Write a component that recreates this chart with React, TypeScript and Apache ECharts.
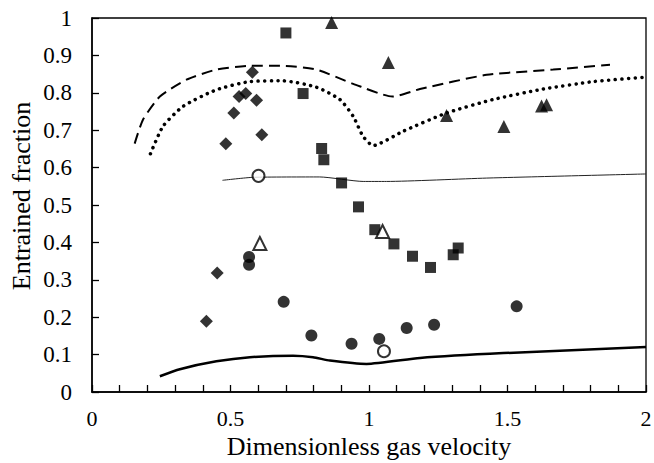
import React, { useEffect, useRef } from "react";
import * as echarts from "echarts";

const xTickLabels = ["0", "0.5", "1", "1.5", "2"];

const diamonds = [
  [0.413, 0.189], [0.452, 0.318], [0.483, 0.664], [0.512, 0.746], [0.531, 0.79],
  [0.555, 0.798], [0.579, 0.855], [0.594, 0.78], [0.613, 0.688],
];
const squares = [
  [0.7, 0.96], [0.762, 0.798], [0.829, 0.651], [0.837, 0.621], [0.901, 0.559],
  [0.962, 0.495], [1.021, 0.434], [1.09, 0.396], [1.157, 0.363], [1.222, 0.333],
  [1.304, 0.367], [1.322, 0.385],
];
const triangles = [
  [0.865, 0.988], [1.07, 0.881], [1.28, 0.739], [1.487, 0.71], [1.623, 0.765], [1.641, 0.768],
];
const circles = [
  [0.567, 0.361], [0.567, 0.34], [0.692, 0.241], [0.792, 0.151], [0.937, 0.129],
  [1.037, 0.142], [1.136, 0.171], [1.235, 0.18], [1.533, 0.229],
];
const openCircles = [[0.601, 0.578], [1.054, 0.109]];
const openTriangles = [[0.606, 0.397], [1.049, 0.429]];

const dashedCurve = [
  [0.154, 0.664], [0.184, 0.728], [0.245, 0.79], [0.341, 0.835], [0.449, 0.862],
  [0.57, 0.872], [0.69, 0.872], [0.81, 0.862], [0.943, 0.824], [1.085, 0.79],
  [1.184, 0.81], [1.425, 0.848], [1.665, 0.862], [1.87, 0.875],
];
const dottedCurve = [
  [0.211, 0.637], [0.256, 0.71], [0.329, 0.764], [0.449, 0.808], [0.57, 0.83],
  [0.69, 0.832], [0.81, 0.815], [0.895, 0.782], [0.943, 0.737], [0.979, 0.683],
  [1.015, 0.659], [1.123, 0.697], [1.28, 0.746], [1.448, 0.782], [1.629, 0.81],
  [1.81, 0.83], [2.0, 0.842],
];
const thinCurve = [
  [0.471, 0.566], [0.582, 0.574], [0.822, 0.575], [0.979, 0.563], [1.063, 0.563],
  [1.425, 0.572], [2.0, 0.583],
];
const thickCurve = [
  [0.245, 0.042], [0.317, 0.061], [0.449, 0.082], [0.57, 0.093], [0.726, 0.097],
  [0.798, 0.093], [0.859, 0.084], [0.991, 0.075], [1.184, 0.091], [1.485, 0.104],
  [2.0, 0.12],
];

const FONT = "Liberation Serif";

export default function App() {
  const ref = useRef<HTMLDivElement>(null);
  useEffect(() => {
    document.body.style.margin = "0";
    document.body.style.overflow = "hidden";
    if (!ref.current) return;
    const chart = echarts.init(ref.current, null, { renderer: "svg" });
    const scatter = (data: number[][], symbol: string, size: number, open = false) => ({
      type: "scatter",
      data,
      symbol,
      symbolSize: size,
      itemStyle: open
        ? { color: "#fff", borderColor: "#000", borderWidth: 2 }
        : { color: "#000" },
      z: 5,
    });
    const line = (data: number[][], lineStyle: any) => ({
      type: "line",
      data,
      showSymbol: false,
      symbol: "none",
      smooth: 0.2,
      lineStyle: { color: "#000", ...lineStyle },
      z: 2,
    });
    chart.setOption({
      animation: false,
      backgroundColor: "#fff",
      grid: {
        left: 92,
        right: 8,
        top: 18,
        bottom: 71,
        show: true,
        borderColor: "#000",
        borderWidth: 1.3,
        outerBoundsMode: "none",
      },
      xAxis: {
        type: "value",
        min: 0,
        max: 2,
        interval: 0.1,
        splitLine: { show: false },
        axisLine: { lineStyle: { color: "#000", width: 1.5 } },
        axisTick: { inside: true, length: 7, lineStyle: { color: "#000", width: 1.3 } },
        axisLabel: {
          margin: 15,
          color: "#000",
          fontFamily: FONT,
          fontSize: 22,
          showMaxLabel: true,
          formatter: (v: number) => {
            const k = Math.round(v * 2);
            return Math.abs(v * 2 - k) < 1e-6 ? xTickLabels[k] ?? "" : "";
          },
        },
        name: "Dimensionless gas velocity",
        nameLocation: "middle",
        nameGap: 41,
        nameMoveOverlap: false,
        nameTextStyle: { color: "#000", fontFamily: FONT, fontSize: 26 },
      },
      yAxis: {
        type: "value",
        min: 0,
        max: 1,
        interval: 0.1,
        splitLine: { show: false },
        axisLine: { lineStyle: { color: "#000", width: 1.5 } },
        axisTick: { inside: true, length: 7, lineStyle: { color: "#000", width: 1.3 } },
        axisLabel: {
          margin: 20,
          color: "#000",
          fontFamily: FONT,
          fontSize: 23,
        },
        name: "Entrained fraction",
        nameLocation: "middle",
        nameGap: 58,
        nameMoveOverlap: false,
        nameTextStyle: { color: "#000", fontFamily: FONT, fontSize: 26, padding: [0, 0, 0, 18] },
      },
      series: [
        line(dashedCurve, { width: 2, type: [11, 6] }),
        line(dottedCurve, { width: 3.5, type: [0.1, 6.5], cap: "round" }),
        line(thinCurve, { width: 1, color: "#222" }),
        line(thickCurve, { width: 2.5 }),
        scatter(diamonds, "diamond", 13),
        scatter(squares, "rect", 11),
        scatter(triangles, "triangle", 13),
        scatter(circles, "circle", 12),
        scatter(openCircles, "circle", 12, true),
        scatter(openTriangles, "triangle", 13, true),
      ],
    });
    return () => chart.dispose();
  }, []);
  return <div ref={ref} style={{ width: 654, height: 463 }} />;
}
